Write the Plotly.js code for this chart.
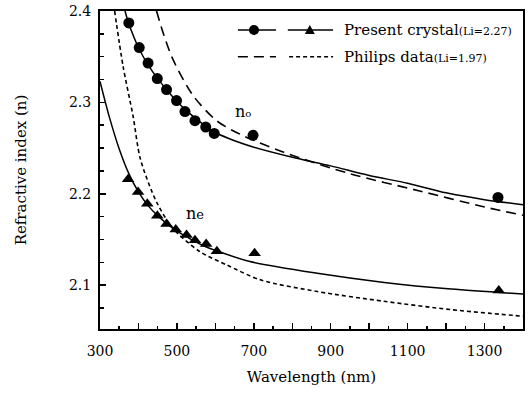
<!DOCTYPE html>
<html>
<head>
<meta charset="utf-8">
<script src="https://cdn.plot.ly/plotly-3.0.1.min.js"></script>
<style>html,body{margin:0;padding:0;background:#fff}#chart{width:532px;height:395px}</style>
</head>
<body>
<div id="chart"></div>
<script>
// Measured points, present crystal (Li=2.27)
const noPtsX = [375, 402, 425, 449, 473, 499, 521, 547, 575, 597, 698, 1335];
const noPtsY = [2.387, 2.360, 2.343, 2.326, 2.314, 2.302, 2.290, 2.280, 2.273, 2.266, 2.264, 2.196];
const nePtsX = [373, 399, 423, 449, 473, 497, 525, 547, 576, 604, 702, 1337];
const nePtsY = [2.216, 2.202, 2.189, 2.176, 2.167, 2.161, 2.155, 2.149, 2.145, 2.137, 2.135, 2.094];

// Fitted curves, present crystal
const noFitX = [365, 375, 400, 425, 450, 475, 500, 525, 550, 575, 600, 650, 700, 800, 900, 1000, 1100, 1200, 1300, 1400];
const noFitY = [2.400, 2.386, 2.360, 2.341, 2.326, 2.313, 2.301, 2.291, 2.282, 2.274, 2.267, 2.258, 2.251, 2.240, 2.2305, 2.220, 2.2115, 2.201, 2.1935, 2.188];
const neFitX = [300, 325, 350, 375, 400, 425, 450, 475, 500, 525, 550, 575, 600, 690, 865, 1039, 1213, 1400];
const neFitY = [2.323, 2.283, 2.249, 2.222, 2.202, 2.187, 2.176, 2.167, 2.159, 2.153, 2.147, 2.142, 2.138, 2.1258, 2.113, 2.103, 2.0957, 2.0902];

// Philips data (Li=1.97)
const noPhX = [447, 465, 490, 543, 604, 665, 778, 952, 1126, 1300, 1400];
const noPhY = [2.400, 2.375, 2.3467, 2.3069, 2.2797, 2.265, 2.2453, 2.2217, 2.2036, 2.1855, 2.1764];
const nePhX = [338, 360, 386, 405, 447, 490, 560, 630, 717, 865, 1039, 1213, 1400];
const nePhY = [2.400, 2.3395, 2.285, 2.238, 2.191, 2.162, 2.1366, 2.122, 2.1058, 2.093, 2.0823, 2.0732, 2.066];

const xTickVals = [300, 400, 500, 600, 700, 800, 900, 1000, 1100, 1200, 1300, 1400];
const xTickText = ['300', '', '500', '', '700', '', '900', '', '1100', '', '1300', ''];
const yTickVals = [2.1, 2.2, 2.3, 2.4];
const yTickText = ['2.1', '2.2', '2.3', '2.4'];

const FONT = '"DejaVu Serif", serif';
const lineBase = {color: '#000', width: 1.5, shape: 'spline', smoothing: 0.8};

const traces = [
  {x: noFitX, y: noFitY, mode: 'lines', line: lineBase, showlegend: false},
  {x: neFitX, y: neFitY, mode: 'lines', line: lineBase, showlegend: false},
  {x: noPhX, y: noPhY, mode: 'lines', line: Object.assign({}, lineBase, {dash: '10px,6px', width: 1.6}), showlegend: false},
  {x: nePhX, y: nePhY, mode: 'lines', line: Object.assign({}, lineBase, {dash: '4px,3px', width: 1.6}), showlegend: false},
  {x: noPtsX, y: noPtsY, mode: 'markers', marker: {symbol: 'circle', size: 11, color: '#000'}, showlegend: false},
  {x: nePtsX, y: nePtsY, mode: 'markers', marker: {symbol: 'triangle-up', size: 11, color: '#000'}, showlegend: false}
];

const r1 = 0.94, r2 = 0.856;
const shapes = [
  {type: 'line', xref: 'paper', yref: 'paper', x0: 0.326, x1: 0.416, y0: r1, y1: r1, line: {color: '#000', width: 1.5}},
  {type: 'circle', xref: 'paper', yref: 'paper', xsizemode: 'pixel', ysizemode: 'pixel', xanchor: 0.364, yanchor: r1, x0: -5, x1: 5, y0: -5, y1: 5, fillcolor: '#000', line: {color: '#000', width: 0}},
  {type: 'line', xref: 'paper', yref: 'paper', x0: 0.444, x1: 0.551, y0: r1, y1: r1, line: {color: '#000', width: 1.5}},
  {type: 'path', xref: 'paper', yref: 'paper', xsizemode: 'pixel', ysizemode: 'pixel', xanchor: 0.496, yanchor: r1, path: 'M -5 -4 L 5 -4 L 0 5 Z', fillcolor: '#000', line: {color: '#000', width: 0}},
  {type: 'line', xref: 'paper', yref: 'paper', x0: 0.326, x1: 0.416, y0: r2, y1: r2, line: {color: '#000', width: 1.6, dash: '10px,6px'}},
  {type: 'line', xref: 'paper', yref: 'paper', x0: 0.447, x1: 0.551, y0: r2, y1: r2, line: {color: '#000', width: 1.6, dash: '4px,3px'}}
];

const annotations = [
  {xref: 'paper', yref: 'paper', x: 0.572, y: r1, xanchor: 'left', yanchor: 'middle', showarrow: false,
   text: 'Present crystal<span style="font-size:11px">(Li=2.27)</span>', font: {family: FONT, size: 15, color: '#000'}},
  {xref: 'paper', yref: 'paper', x: 0.572, y: r2, xanchor: 'left', yanchor: 'middle', showarrow: false,
   text: 'Philips data<span style="font-size:11px">(Li=1.97)</span>', font: {family: FONT, size: 15, color: '#000'}},
  {xref: 'x', yref: 'y', x: 672, y: 2.290, showarrow: false, text: 'n<span style="font-size:10px">o</span>', font: {family: FONT, size: 16, color: '#000'}},
  {xref: 'x', yref: 'y', x: 547, y: 2.178, showarrow: false, text: 'n<span style="font-size:13px">e</span>', font: {family: FONT, size: 16, color: '#000'}}
];

const layout = {
  width: 532, height: 395,
  margin: {l: 100, r: 9, t: 11, b: 66, pad: 0},
  paper_bgcolor: '#fff', plot_bgcolor: '#fff',
  font: {family: FONT, size: 14, color: '#000'},
  showlegend: false,
  xaxis: {
    range: [300, 1400], tickmode: 'array', tickvals: xTickVals, ticktext: xTickText,
    ticks: 'inside', ticklen: 6, tickwidth: 1.5, tickcolor: '#000',
    minor: {dtick: 50, tick0: 300, ticks: 'inside', ticklen: 3, tickwidth: 1.5, tickcolor: '#000'},
    showline: true, linewidth: 2, linecolor: '#000', mirror: true, showgrid: false, zeroline: false,
    tickfont: {family: FONT, size: 14}, ticklabelstandoff: 8,
    title: {text: 'Wavelength (nm)', font: {family: FONT, size: 15}, standoff: 14}
  },
  yaxis: {
    range: [2.052, 2.4], tickmode: 'array', tickvals: yTickVals, ticktext: yTickText,
    ticks: 'inside', ticklen: 6, tickwidth: 1.5, tickcolor: '#000',
    minor: {dtick: 0.025, tick0: 2.1, ticks: 'inside', ticklen: 4, tickwidth: 1.5, tickcolor: '#000'},
    showline: true, linewidth: 2, linecolor: '#000', mirror: true, showgrid: false, zeroline: false,
    tickfont: {family: FONT, size: 14}, ticklabelstandoff: 4,
    title: {text: 'Refractive index (n)', font: {family: FONT, size: 15}, standoff: 39}
  },
  shapes: shapes,
  annotations: annotations
};

Plotly.newPlot('chart', traces, layout, {displayModeBar: false, staticPlot: true});
</script>
</body>
</html>
